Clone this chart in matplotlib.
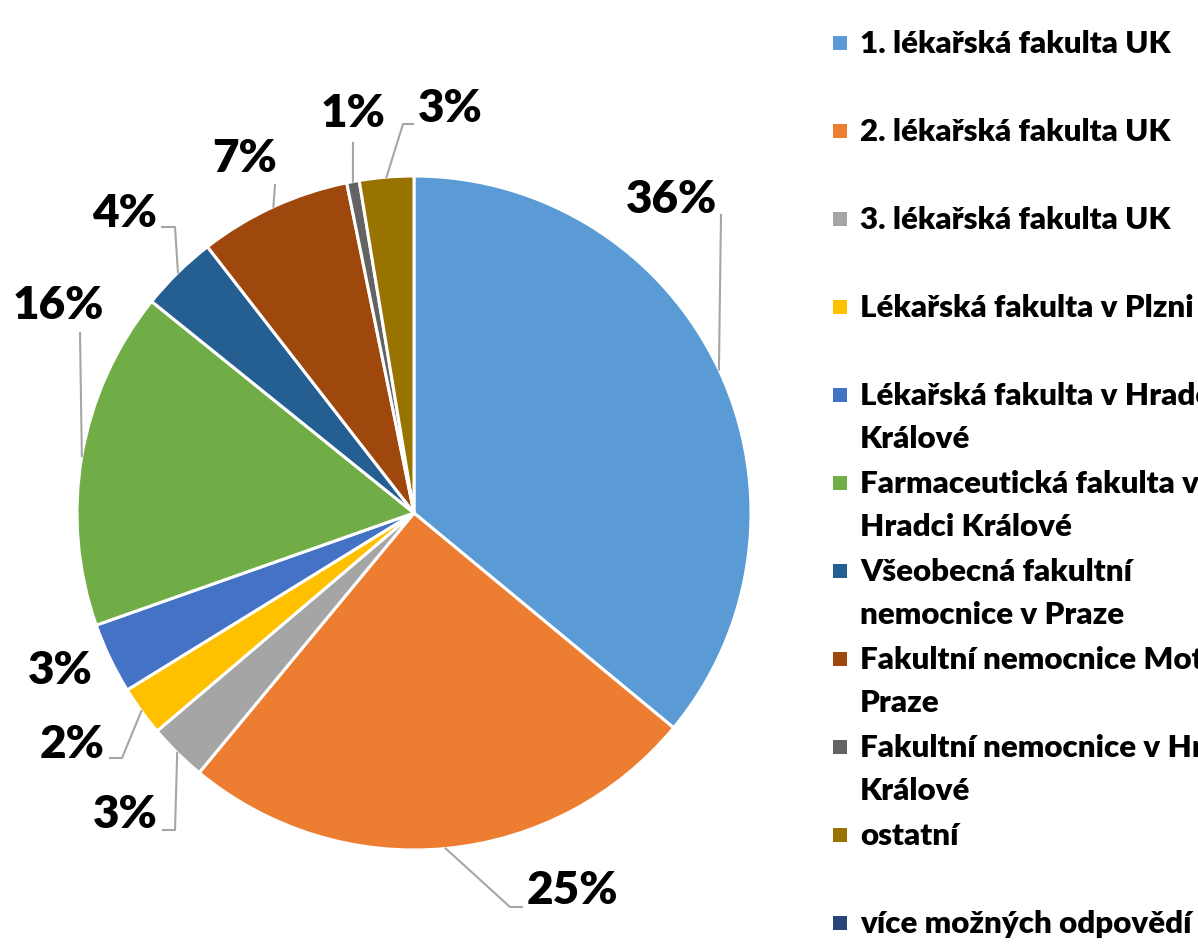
import matplotlib.pyplot as plt
import numpy as np
from matplotlib.patches import Rectangle

plt.rcParams['font.family'] = ['Lato', 'DejaVu Sans']

# data
categories = [
    '1. lékařská fakulta UK',
    '2. lékařská fakulta UK',
    '3. lékařská fakulta UK',
    'Lékařská fakulta v Plzni',
    'Lékařská fakulta v Hradci\nKrálové',
    'Farmaceutická fakulta v\nHradci Králové',
    'Všeobecná fakultní\nnemocnice v Praze',
    'Fakultní nemocnice Motol v\nPraze',
    'Fakultní nemocnice v Hradci\nKrálové',
    'ostatní',
    'více možných odpovědí',
]
shares = [36.0, 25.0, 2.8, 2.4, 3.4, 16.2, 3.7, 7.3, 0.6, 2.6, 0.0]
colors = ['#5B9BD5', '#ED7D31', '#A5A5A5', '#FFC000', '#4472C4', '#70AD47',
          '#255E91', '#9E480E', '#636363', '#997300', '#264478']

W, H = 1198, 946
CX, CY, R = 414, 513, 337

# label placement (pixels): leader points after the wedge anchor, text centre
leaders = [
    [(721, 215)],
    [(510, 907), (522, 907)],
    [(175, 830), (163, 830)],
    [(122, 758), (110, 758)],
    [],
    [(80, 333)],
    [(175, 227), (162, 227)],
    [(275, 185)],
    [(353, 143)],
    [(403, 124), (413, 124)],
]
label_xy = [(672, 199), (572, 890), (125, 815), (72, 745), (60, 670),
            (58, 305), (125, 213), (245, 158), (353, 113), (450, 108)]


def to_data(px, py):
    return (px - CX) / R, (CY - py) / R


fig = plt.figure(figsize=(W / 100, H / 100), dpi=100)
ax = fig.add_axes([(CX - R) / W, (H - CY - R) / H, 2 * R / W, 2 * R / H])

vals = [v for v in shares if v > 0]
wedges, _ = ax.pie(vals, colors=colors[:len(vals)], startangle=90, counterclock=False,
                   radius=1, wedgeprops=dict(edgecolor='white', linewidth=2.2))
ax.set_xlim(-1, 1)
ax.set_ylim(-1, 1)
ax.set_aspect('equal')
ax.axis('off')

for w, v, pts, (tx, ty) in zip(wedges, vals, leaders, label_xy):
    mid = np.deg2rad((w.theta1 + w.theta2) / 2)
    if pts:
        xs = [np.cos(mid)] + [to_data(*p)[0] for p in pts]
        ys = [np.sin(mid)] + [to_data(*p)[1] for p in pts]
        ax.plot(xs, ys, color='#A6A6A6', lw=1.5, clip_on=False)
    x, y = to_data(tx, ty)
    ax.text(x, y, f'{round(v)}%', ha='center', va='center', fontsize=33,
            fontweight='heavy', color='black', clip_on=False)

# legend, drawn by hand to keep the Excel layout
for i, (name, c) in enumerate(zip(categories, colors)):
    base = 53 + 88 * i
    fig.patches.append(Rectangle((833 / W, 1 - (base - 3) / H), 14 / W, 14 / H,
                                 transform=fig.transFigure, facecolor=c, edgecolor='none'))
    for j, ln in enumerate(name.split('\n')):
        fig.text(860 / W, 1 - (base + 43 * j) / H, ln, ha='left', va='baseline',
                 fontsize=22.5, fontweight='heavy', color='black')

fig.savefig('out.png', dpi=100, facecolor='white')
